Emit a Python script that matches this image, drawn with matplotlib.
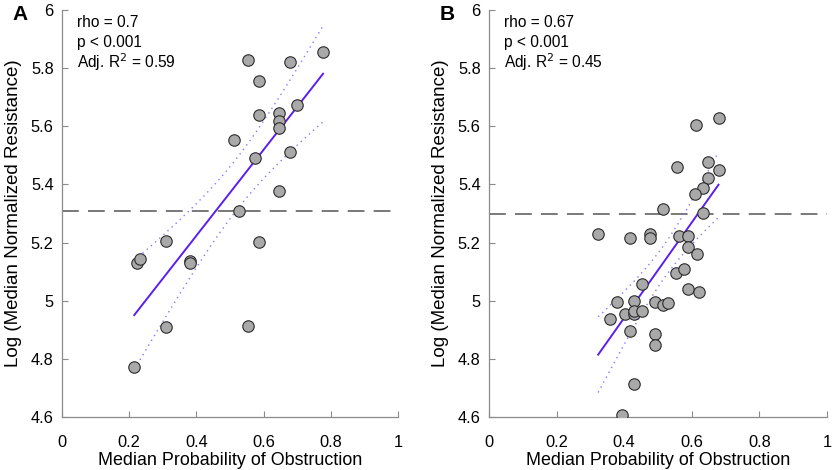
import numpy as np
import matplotlib
matplotlib.use("Agg")
import matplotlib.pyplot as plt

plt.rcParams['font.family'] = ['Liberation Sans', 'DejaVu Sans']

# ---------------- Data ----------------
a_x = [0.553, 0.679, 0.777, 0.587, 0.700, 0.647, 0.587, 0.646, 0.647, 0.513,
       0.575, 0.679, 0.647, 0.527, 0.310, 0.587, 0.222, 0.232, 0.380, 0.380,
       0.310, 0.553, 0.215]
a_y = [5.827, 5.822, 5.854, 5.756, 5.672, 5.647, 5.638, 5.617, 5.593, 5.553,
       5.492, 5.511, 5.376, 5.310, 5.206, 5.203, 5.130, 5.144, 5.138, 5.130,
       4.910, 4.914, 4.773]

b_x = [0.323, 0.417, 0.477, 0.477, 0.514, 0.557, 0.611, 0.679, 0.647, 0.679,
       0.647, 0.634, 0.610, 0.634, 0.562, 0.588, 0.588, 0.616, 0.552, 0.576,
       0.588, 0.621, 0.454, 0.380, 0.429, 0.490, 0.514, 0.529, 0.358, 0.403,
       0.429, 0.429, 0.454, 0.416, 0.490, 0.490, 0.429, 0.393]
b_y = [5.230, 5.217, 5.230, 5.217, 5.317, 5.459, 5.606, 5.629, 5.477, 5.449,
       5.421, 5.387, 5.366, 5.301, 5.221, 5.222, 5.184, 5.161, 5.094, 5.108,
       5.042, 5.029, 5.058, 4.994, 4.999, 4.994, 4.985, 4.992, 4.938, 4.956,
       4.953, 4.965, 4.963, 4.897, 4.887, 4.848, 4.715, 4.607]

a_ref = 5.307
b_ref = 5.297
a_stats = ["rho = 0.7", "p < 0.001", "Adj. R$^2$ = 0.59"]
b_stats = ["rho = 0.67", "p < 0.001", "Adj. R$^2$ = 0.45"]
panel_labels = ["A", "B"]
t_crit = {21: 2.080, 36: 2.028}

x_ticks = [0, 0.2, 0.4, 0.6, 0.8, 1]
y_ticks = [4.6, 4.8, 5.0, 5.2, 5.4, 5.6, 5.8, 6.0]

fig = plt.figure(figsize=(8.34, 4.70), dpi=100)
ax_a = fig.add_axes([62/834, 53/470, 336/834, 407/470])
ax_b = fig.add_axes([489/834, 53/470, 338/834, 407/470])

line_col = '#5a1ff0'
band_col = '#8c74ff'
spine_col = '#8a8a8a'

for ax, xs, ys, ref, stats in [(ax_a, a_x, a_y, a_ref, a_stats),
                               (ax_b, b_x, b_y, b_ref, b_stats)]:
    xs = np.asarray(xs); ys = np.asarray(ys)
    n = len(xs)
    slope, icpt = np.polyfit(xs, ys, 1)
    xf = np.linspace(xs.min(), xs.max(), 100)
    yf = slope * xf + icpt
    resid = ys - (slope * xs + icpt)
    s = np.sqrt(np.sum(resid**2) / (n - 2))
    sxx = np.sum((xs - xs.mean())**2)
    hw = t_crit[n - 2] * s * np.sqrt(1.0/n + (xf - xs.mean())**2 / sxx)

    ax.axhline(ref, color='#555555', lw=1.1, dashes=(11, 6), zorder=1)
    ax.plot(xf, yf + hw, color=band_col, lw=1.0, ls=(0, (1, 3)), zorder=2)
    ax.plot(xf, yf - hw, color=band_col, lw=1.0, ls=(0, (1, 3)), zorder=2)
    ax.plot(xf, yf, color=line_col, lw=1.4, zorder=3)
    ax.scatter(xs, ys, s=68, facecolor='#a9a9a9', edgecolor='#2b2b2b', lw=0.8, zorder=4)

    ax.set_xlim(0, 1)
    ax.set_ylim(4.6, 6.0)
    ax.set_xticks(x_ticks)
    ax.set_xticklabels(['%g' % v for v in x_ticks])
    ax.set_yticks(y_ticks)
    ax.set_yticklabels(['%g' % round(v, 1) for v in y_ticks])
    for sp in ['top', 'right']:
        ax.spines[sp].set_visible(False)
    for sp in ['left', 'bottom']:
        ax.spines[sp].set_color(spine_col)
        ax.spines[sp].set_linewidth(0.9)
    ax.tick_params(direction='in', length=4, color=spine_col, labelsize=11.8)
    ax.tick_params(axis='x', pad=13)
    ax.tick_params(axis='y', pad=6)
    xl = ax.set_xlabel('Median Probability of Obstruction', fontsize=12.9)
    xl.set_va('baseline')
    ax.xaxis.set_label_coords(0.5, -48 / 407)
    ax.set_ylabel('Log (Median Normalized Resistance)', fontsize=13.5, labelpad=6)
    for i, t in enumerate(stats):
        ax.text(0.045, 1 - (17 + 20.5 * i) / 407, t, transform=ax.transAxes, fontsize=11.2,
                va='baseline', ha='left')

fig.text(12/834, 1 - 5/470, panel_labels[0], fontsize=15, fontweight='bold', va='top')
fig.text(440/834, 1 - 5/470, panel_labels[1], fontsize=15, fontweight='bold', va='top')

fig.savefig('out.png', dpi=100)
